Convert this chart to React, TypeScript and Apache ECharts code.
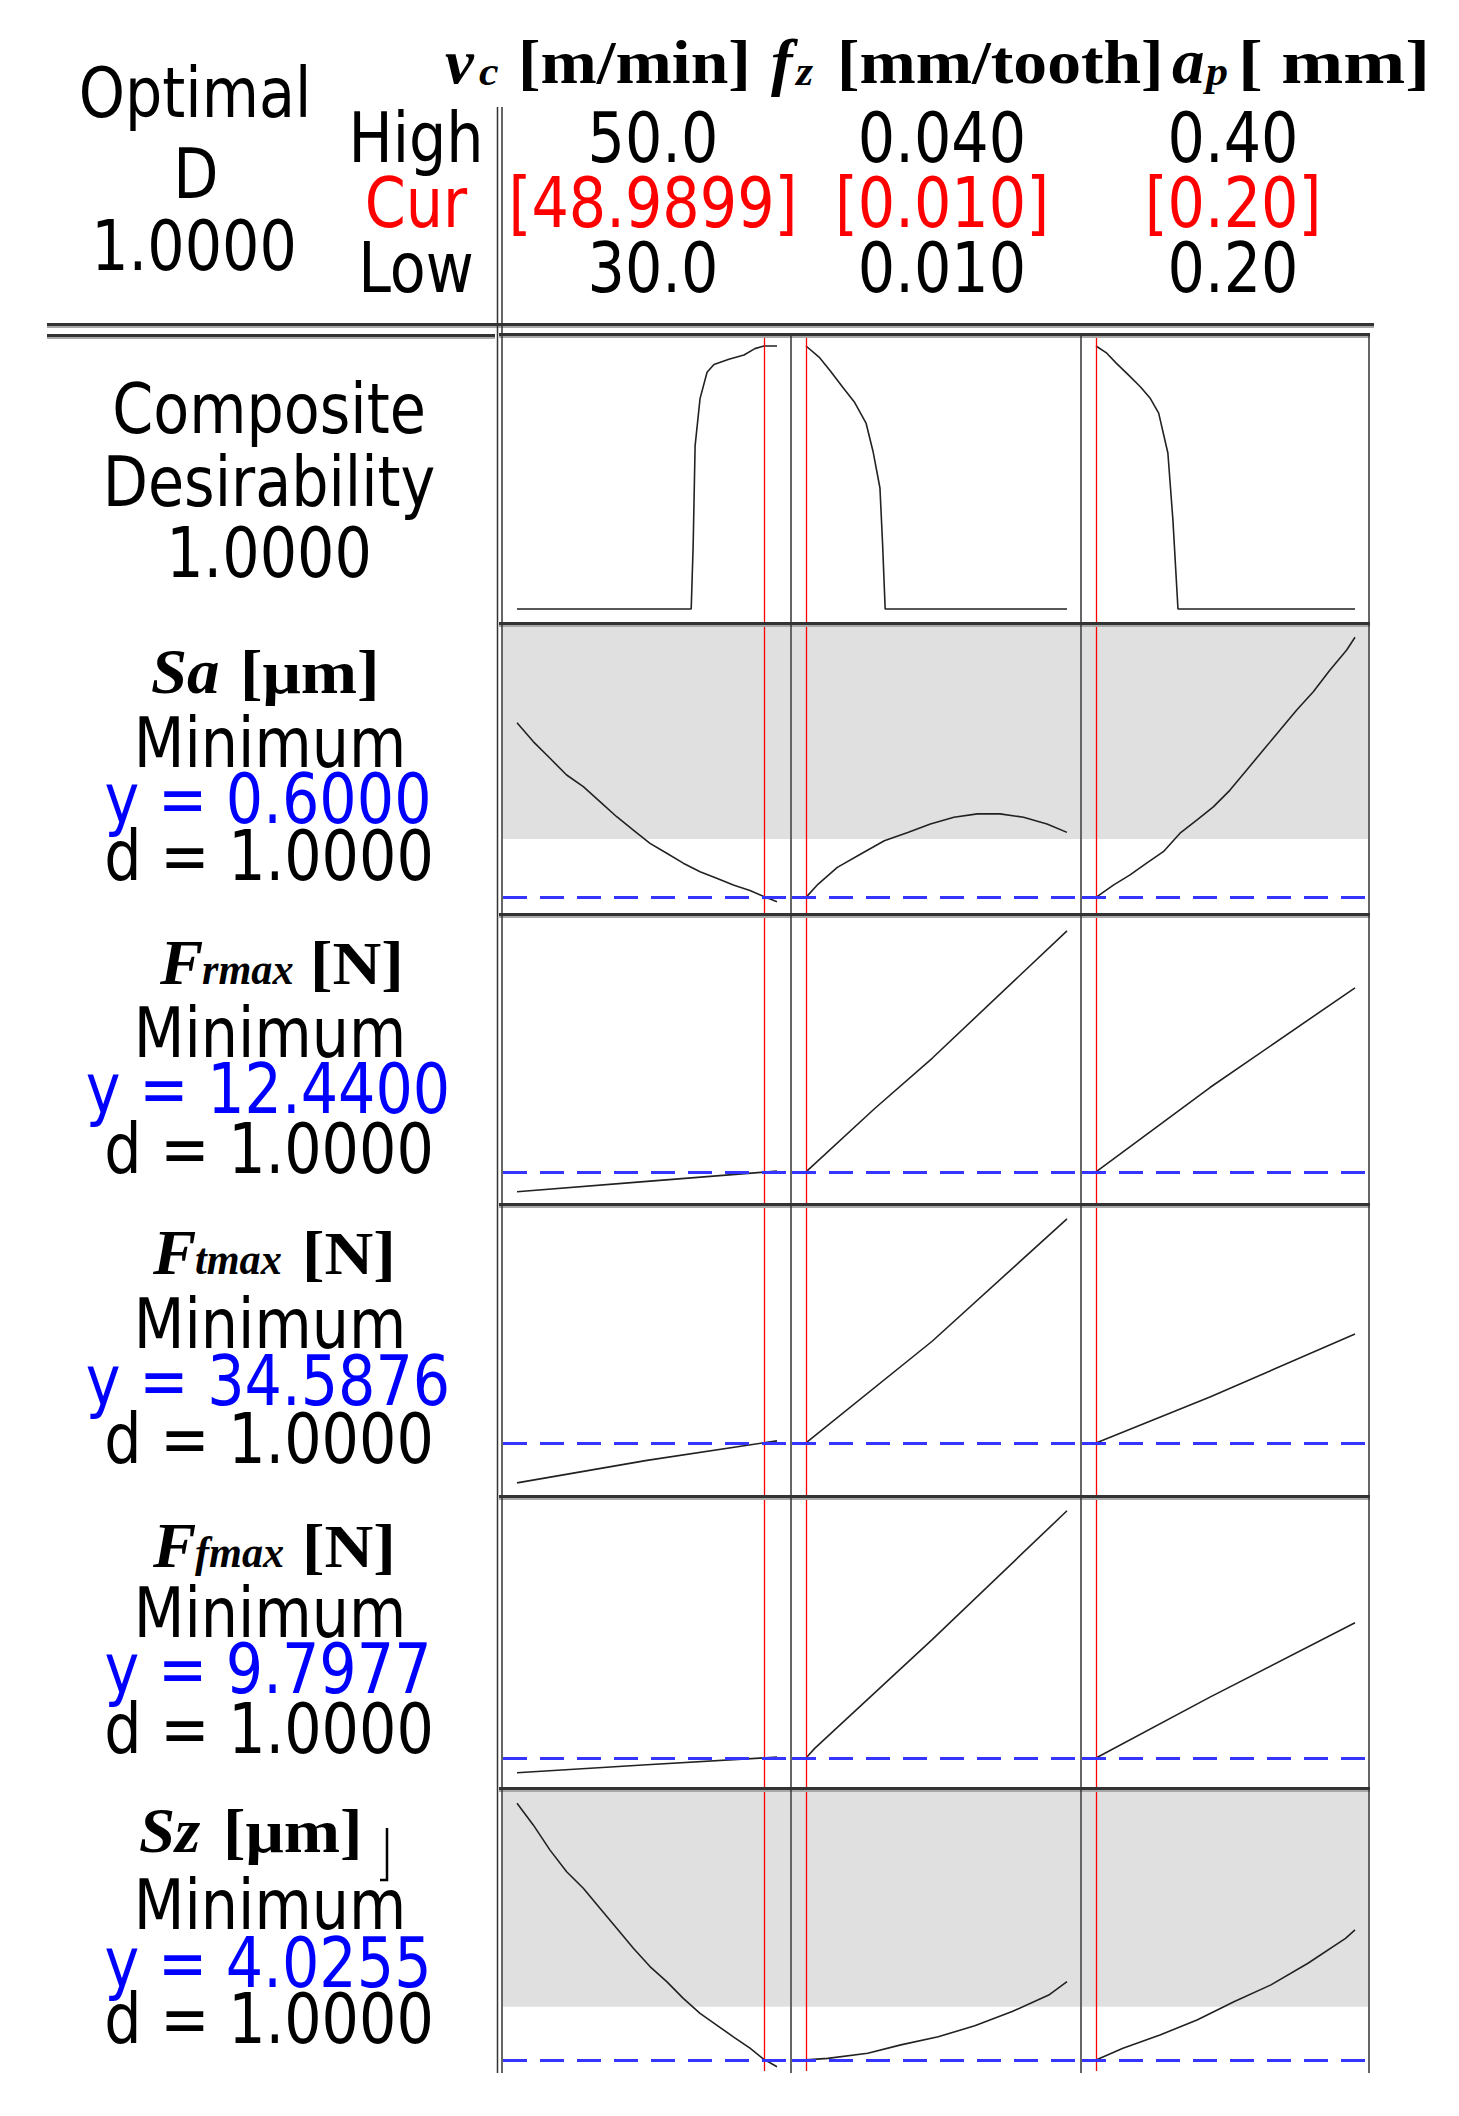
import React, { useEffect, useRef } from 'react';
import * as echarts from 'echarts';

// ---------------- data ----------------
const factorLow = [30, 0.01, 0.2];
const factorHigh = [50, 0.04, 0.4];
const factorCur = [48.9899, 0.01, 0.2];
const highLabels = ['50.0', '0.040', '0.40'];
const curLabels = ['[48.9899]', '[0.010]', '[0.20]'];
const lowLabels = ['30.0', '0.010', '0.20'];

// composite desirability vs vc, fz, ap
const compositeVc = [[30, 0], [43.4, 0], [43.55, 0.24], [43.7, 0.62], [44.08, 0.8], [44.62, 0.9], [45.15, 0.93], [46.3, 0.95], [47.46, 0.966], [48.3, 0.99], [49.0, 1.0], [50, 1.0]];
const compositeFz = [[0.01, 1.0], [0.0115, 0.958], [0.0128, 0.905], [0.0142, 0.844], [0.0156, 0.785], [0.0169, 0.707], [0.0177, 0.6], [0.0185, 0.46], [0.0188, 0.25], [0.0191, 0], [0.04, 0]];
const compositeAp = [[0.2, 1.0], [0.2078, 0.975], [0.2156, 0.935], [0.225, 0.89], [0.2344, 0.844], [0.242, 0.8], [0.2484, 0.745], [0.2555, 0.593], [0.2594, 0.338], [0.2633, 0], [0.4, 0]];

// Sa [µm]
const saVc = [[30, 1.269], [31.25, 1.197], [32.54, 1.133], [33.82, 1.069], [35.1, 1.024], [36.38, 0.967], [37.67, 0.909], [38.95, 0.858], [40.23, 0.807], [41.52, 0.769], [42.79, 0.731], [44.08, 0.698], [45.36, 0.673], [46.64, 0.647], [47.92, 0.626], [48.99, 0.603], [50, 0.583]];
const saFz = [[0.01, 0.6], [0.0114, 0.651], [0.0136, 0.715], [0.0163, 0.766], [0.019, 0.817], [0.0217, 0.849], [0.0243, 0.881], [0.027, 0.907], [0.0297, 0.92], [0.0323, 0.92], [0.035, 0.907], [0.0377, 0.881], [0.04, 0.849]];
const saAp = [[0.2, 0.6], [0.2134, 0.647], [0.2263, 0.686], [0.2391, 0.731], [0.252, 0.775], [0.2649, 0.846], [0.2778, 0.896], [0.2906, 0.947], [0.3035, 1.011], [0.3164, 1.088], [0.3292, 1.165], [0.3421, 1.241], [0.355, 1.318], [0.3678, 1.388], [0.3807, 1.471], [0.3936, 1.548], [0.4, 1.597]];

// Frmax [N]
const frVc = [[30, 9.8], [40, 11.18], [50, 12.55]];
const frFz = [[0.01, 12.44], [0.0179, 20.9], [0.0245, 27.6], [0.04, 44.6]];
const frAp = [[0.2, 12.44], [0.288, 23.7], [0.4, 37.0]];

// Ftmax [N]
const ftVc = [[30, 21.3], [40, 28.8], [50, 35.3]];
const ftFz = [[0.01, 34.59], [0.0245, 68.5], [0.04, 109.3]];
const ftAp = [[0.2, 34.59], [0.288, 49.9], [0.4, 70.9]];

// Ffmax [N]
const ffVc = [[30, 7.95], [40, 8.95], [50, 9.9]];
const ffFz = [[0.01, 9.8], [0.011, 11.0], [0.0245, 24.6], [0.04, 40.7]];
const ffAp = [[0.2, 9.8], [0.288, 17.4], [0.4, 26.7]];

// Sz [µm]
const szVc = [[30, 12.58], [31.25, 11.86], [32.54, 11.02], [33.82, 10.3], [35.1, 9.75], [36.38, 9.08], [37.67, 8.42], [38.95, 7.75], [40.23, 7.14], [41.52, 6.64], [42.79, 6.08], [44.08, 5.58], [45.36, 5.19], [46.64, 4.8], [47.92, 4.42], [48.99, 4.05], [50, 3.8]];
const szFz = [[0.01, 4.03], [0.0125, 4.08], [0.0171, 4.25], [0.0209, 4.53], [0.0252, 4.8], [0.0294, 5.17], [0.0337, 5.64], [0.0379, 6.19], [0.04, 6.64]];
const szAp = [[0.2, 4.03], [0.2208, 4.42], [0.2494, 4.86], [0.278, 5.36], [0.3065, 5.97], [0.3351, 6.53], [0.3637, 7.25], [0.3927, 8.08], [0.4, 8.36]];

const rowCurves = [
  [compositeVc, compositeFz, compositeAp],
  [saVc, saFz, saAp],
  [frVc, frFz, frAp],
  [ftVc, ftFz, ftAp],
  [ffVc, ffFz, ffAp],
  [szVc, szFz, szAp],
];
// y value at current setting (null for composite)
const responseY = [null, 0.6, 12.44, 34.5876, 9.7977, 4.0255];
// upper bound, above which region is shaded
const responseUpper = [null, 0.824, null, null, null, 5.8];
// y axis ranges of each row
const yRanges = [[-0.0494, 1.0342], [0.54, 1.64], [8.3, 46.44], [17.25, 113.25], [6.17, 42.17], [3.66, 12.99]];

// ---------------- layout ----------------
const W = 1459;
const H = 2116;
const rowEdges = [335, 624, 915, 1205, 1497, 1789, 2073];
const colEdges = [502, 791, 1081, 1369];
const PAD_L = 14;
const PAD_R = 13;

const SANS = 'DejaVu Sans';
const SERIF = 'Liberation Serif';
const SANS_F = 70;
const SANS_SX = 0.84;
const RED = '#ff0000';
const BLUE = '#0000ff';

function sans(text: string, x: number, y: number, color = '#000') {
  return {
    type: 'text', x, y: y + 1, scaleX: SANS_SX, z: 100, silent: true,
    style: {
      text, fill: color, fontFamily: SANS, fontSize: SANS_F,
      align: 'center', verticalAlign: 'middle', textAlign: 'center', textVerticalAlign: 'middle',
    },
  };
}

function serif(text: string, x: number, baseline: number, size: number, italic: boolean, sx: number) {
  return {
    type: 'text', x, y: baseline - 0.3375 * size, scaleX: sx, z: 100, silent: true,
    style: {
      text, fill: '#000', fontFamily: SERIF, fontSize: size, fontWeight: 'bold',
      fontStyle: italic ? 'italic' : 'normal',
      align: 'left', verticalAlign: 'middle', textAlign: 'left', textVerticalAlign: 'middle',
    },
  };
}
// main bold roman, main italic variable, subscript
const br = (t: string, x: number, b: number, sx = 1.09) => serif(t, x, b, 62, false, sx);
const bi = (t: string, x: number, b: number) => serif(t, x, b, 63, true, 1.03);
const sub = (t: string, x: number, b: number) => serif(t, x, b, 44, true, 0.96);
const hsub = (t: string, x: number, b: number) => serif(t, x, b, 40, true, 1.1);

function thickH(x1: number, x2: number, y: number) {
  return [
    { type: 'rect', z: 110, silent: true, shape: { x: x1, y: y - 2, width: x2 - x1, height: 3 }, style: { fill: '#333' } },
    { type: 'rect', z: 110, silent: true, shape: { x: x1, y: y + 1, width: x2 - x1, height: 2 }, style: { fill: '#a8a8a8' } },
  ];
}

function vline(x: number, y1: number, y2: number, w = 1.5, color = '#333') {
  return { type: 'line', z: 110, silent: true, shape: { x1: x, y1, x2: x, y2 }, style: { stroke: color, lineWidth: w } };
}

function buildOption() {
  const grid: any[] = [];
  const xAxis: any[] = [];
  const yAxis: any[] = [];
  const series: any[] = [];
  for (let r = 0; r < 6; r++) {
    for (let c = 0; c < 3; c++) {
      const idx = r * 3 + c;
      const left = colEdges[c] + 1;
      const width = colEdges[c + 1] - colEdges[c] - 2;
      const top = rowEdges[r] + 2;
      const height = rowEdges[r + 1] - rowEdges[r] - 4;
      grid.push({ left, top, width, height, containLabel: false });
      const u = (factorHigh[c] - factorLow[c]) / (width - PAD_L - PAD_R);
      xAxis.push({
        type: 'value', gridIndex: idx, min: factorLow[c] - PAD_L * u, max: factorHigh[c] + PAD_R * u, show: false,
      });
      yAxis.push({ type: 'value', gridIndex: idx, min: yRanges[r][0], max: yRanges[r][1], show: false });
      const mlData: any[] = [
        { xAxis: factorCur[c], lineStyle: { color: RED, width: 1.3, type: 'solid' } },
      ];
      if (responseY[r] !== null) {
        mlData.push({ yAxis: responseY[r], lineStyle: { color: '#3535ff', width: 3, type: [24, 13] } });
      }
      const s: any = {
        type: 'line', xAxisIndex: idx, yAxisIndex: idx, data: rowCurves[r][c],
        symbol: 'none', showSymbol: false, silent: true, smooth: false,
        lineStyle: { color: '#222', width: 1.6 },
        markLine: { silent: true, symbol: ['none', 'none'], label: { show: false }, animation: false, data: mlData },
      };
      if (responseUpper[r] !== null) {
        s.markArea = {
          silent: true, animation: false,
          itemStyle: { color: '#e0e0e0', opacity: 1 },
          data: [[{ yAxis: responseUpper[r] }, { yAxis: yRanges[r][1] }]],
        };
      }
      series.push(s);
    }
  }

  const elements: any[] = [];
  // header texts
  elements.push(sans('Optimal', 195, 92), sans('D', 196, 173), sans('1.0000', 194, 245));
  elements.push(sans('High', 416, 137), sans('Cur', 416, 202, RED), sans('Low', 416, 267));
  const colX = [653, 942, 1233];
  for (let c = 0; c < 3; c++) {
    elements.push(sans(highLabels[c], colX[c], 137));
    elements.push(sans(curLabels[c], colX[c], 202, RED));
    elements.push(sans(lowLabels[c], colX[c], 267));
  }
  // factor names
  elements.push(
    bi('v', 445, 83), hsub('c', 479, 85),
    br('[m/min]', 518, 83),
    bi('f', 771, 83), hsub('z', 796, 85),
    br('[mm/tooth]', 837, 83),
    bi('a', 1172, 83), hsub('p', 1206, 85),
    br('[ mm]', 1238, 83, 1.2),
  );
  // composite label
  elements.push(sans('Composite', 269, 408), sans('Desirability', 269, 481), sans('1.0000', 269, 552));
  // response labels
  elements.push(bi('Sa', 151, 693), br('[\u03bcm]', 240, 693));
  elements.push(bi('F', 160, 984), sub('rmax', 202, 984), br('[N]', 310, 984));
  elements.push(bi('F', 153, 1274), sub('tmax', 195, 1274), br('[N]', 302, 1274));
  elements.push(bi('F', 153, 1567), sub('fmax', 195, 1567), br('[N]', 302, 1567));
  elements.push(bi('Sz', 139, 1852), br('[\u03bcm]', 223, 1852));
  elements.push({ type: 'polyline', z: 100, silent: true, shape: { points: [[387, 1828], [387, 1880], [380, 1880]] }, style: { stroke: '#000', lineWidth: 2.5, fill: 'none' } });

  const minY = [742, 1032, 1323, 1612, 1904];
  const yLineY = [798, 1088, 1380, 1668, 1962];
  const dLineY = [855, 1148, 1438, 1728, 2018];
  for (let i = 0; i < 5; i++) {
    elements.push(sans('Minimum', 270, minY[i]));
    elements.push(sans('y = ' + (responseY[i + 1] as number).toFixed(4), 268, yLineY[i], BLUE));
    elements.push(sans('d = 1.0000', 269, dLineY[i]));
  }

  // frame lines
  elements.push(...thickH(47, 1374, 325));
  elements.push(...thickH(47, 495, 336));
  for (let r = 0; r < 6; r++) elements.push(...thickH(499, 1370, rowEdges[r]));
  elements.push(vline(497.5, 107, 2073), vline(502, 107, 2073));
  elements.push(vline(colEdges[1], 335, 2073), vline(colEdges[2], 335, 2073), vline(colEdges[3], 335, 2073));

  return {
    animation: false,
    backgroundColor: '#fff',
    grid, xAxis, yAxis, series,
    graphic: { elements },
  };
}

export default function App() {
  const ref = useRef<HTMLDivElement>(null);
  useEffect(() => {
    if (!ref.current) return;
    const chart = echarts.init(ref.current, undefined, { renderer: 'svg' });
    chart.setOption(buildOption() as any);
    return () => chart.dispose();
  }, []);
  return <div ref={ref} style={{ position: 'absolute', left: 0, top: 0, width: W, height: H, background: '#fff' }} />;
}
